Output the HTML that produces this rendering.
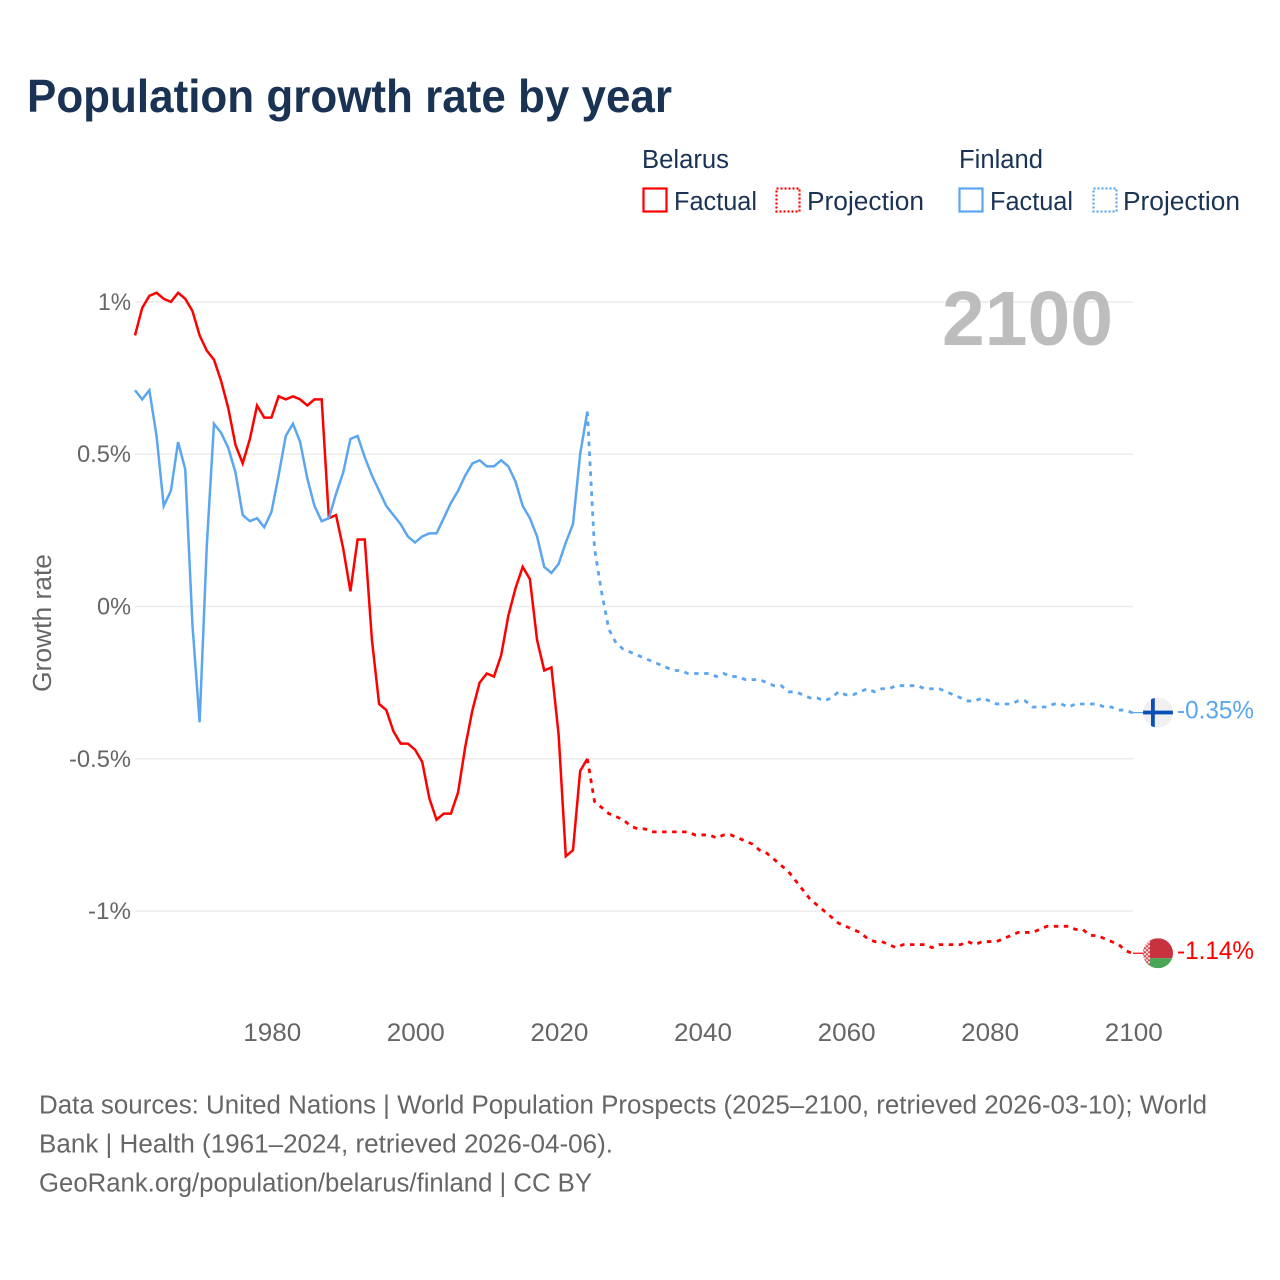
<!DOCTYPE html>
<html lang="en">
<head>
<meta charset="utf-8">
<title>Population growth rate by year</title>
<style>
html,body{margin:0;padding:0;background:#fff;}
svg{display:block;}
text{font-family:"Liberation Sans",sans-serif;}
</style>
</head>
<body>
<svg id="chart" xmlns="http://www.w3.org/2000/svg" width="1280" height="1280" viewBox="0 0 1280 1280">
  <defs>
    <clipPath id="fi-clip"><circle cx="0" cy="0" r="15"/></clipPath>
    <clipPath id="by-clip"><circle cx="0" cy="0" r="15"/></clipPath>
    <pattern id="by-ornament" width="4" height="4" patternUnits="userSpaceOnUse">
      <rect width="4" height="4" fill="#f3dcdc"/>
      <rect width="2" height="2" fill="#cf4a55"/>
      <rect x="2" y="2" width="2" height="2" fill="#cf4a55"/>
    </pattern>
  </defs>
  <rect width="1280" height="1280" fill="#fff"/>

  <text x="27" y="112" font-size="46" font-weight="700" fill="#1a3354" textLength="645" lengthAdjust="spacingAndGlyphs">Population growth rate by year</text>

  <g font-size="25.5" fill="#1a3354">
    <text x="642" y="168" textLength="87" lengthAdjust="spacingAndGlyphs">Belarus</text>
    <g>
      <rect x="643.5" y="188.5" width="23" height="23" fill="none" stroke="#ff0000" stroke-width="2.2"/>
      <text x="674" y="210" textLength="83" lengthAdjust="spacingAndGlyphs">Factual</text>
    </g>
    <g>
      <rect x="776.5" y="188.5" width="23" height="23" fill="none" stroke="#ff0000" stroke-width="2.2" stroke-dasharray="2 2"/>
      <text x="807" y="210" textLength="117" lengthAdjust="spacingAndGlyphs">Projection</text>
    </g>
    <text x="959" y="168" textLength="84" lengthAdjust="spacingAndGlyphs">Finland</text>
    <g>
      <rect x="959.5" y="188.5" width="23" height="23" fill="none" stroke="#5ba6ee" stroke-width="2.2"/>
      <text x="990" y="210" textLength="83" lengthAdjust="spacingAndGlyphs">Factual</text>
    </g>
    <g>
      <rect x="1093.5" y="188.5" width="23" height="23" fill="none" stroke="#5ba6ee" stroke-width="2.2" stroke-dasharray="2 2"/>
      <text x="1123" y="210" textLength="117" lengthAdjust="spacingAndGlyphs">Projection</text>
    </g>
  </g>

  <g id="grid"></g>
  <g id="yticks"></g>
  <g id="xticks"></g>

  <text x="0" y="0" transform="translate(51,623) rotate(-90)" text-anchor="middle" font-size="25.5" fill="#666" textLength="138" lengthAdjust="spacingAndGlyphs">Growth rate</text>

  <text x="1113" y="345" text-anchor="end" font-size="77" font-weight="700" fill="#bdbdbd" textLength="171" lengthAdjust="spacingAndGlyphs">2100</text>

  <g id="series"></g>
  <g id="ends"></g>

  <g font-size="25.5" fill="#666">
    <text x="39" y="1113.5" textLength="1168" lengthAdjust="spacingAndGlyphs">Data sources: United Nations | World Population Prospects (2025–2100, retrieved 2026-03-10); World</text>
    <text x="39" y="1152.5" textLength="574" lengthAdjust="spacingAndGlyphs">Bank | Health (1961–2024, retrieved 2026-04-06).</text>
    <text x="39" y="1191.5" textLength="553" lengthAdjust="spacingAndGlyphs">GeoRank.org/population/belarus/finland | CC BY</text>
  </g>
</svg>

<script>
const factualYears = [1961,1962,1963,1964,1965,1966,1967,1968,1969,1970,1971,1972,1973,1974,1975,1976,1977,1978,1979,1980,1981,1982,1983,1984,1985,1986,1987,1988,1989,1990,1991,1992,1993,1994,1995,1996,1997,1998,1999,2000,2001,2002,2003,2004,2005,2006,2007,2008,2009,2010,2011,2012,2013,2014,2015,2016,2017,2018,2019,2020,2021,2022,2023,2024];
const projectionYears = [2024,2025,2026,2027,2028,2029,2030,2031,2032,2033,2034,2035,2036,2037,2038,2039,2040,2041,2042,2043,2044,2045,2046,2047,2048,2049,2050,2051,2052,2053,2054,2055,2056,2057,2058,2059,2060,2061,2062,2063,2064,2065,2066,2067,2068,2069,2070,2071,2072,2073,2074,2075,2076,2077,2078,2079,2080,2081,2082,2083,2084,2085,2086,2087,2088,2089,2090,2091,2092,2093,2094,2095,2096,2097,2098,2099,2100];

const belarusFactual = [0.89,0.98,1.02,1.03,1.01,1.00,1.03,1.01,0.97,0.89,0.84,0.81,0.74,0.65,0.53,0.47,0.55,0.66,0.62,0.62,0.69,0.68,0.69,0.68,0.66,0.68,0.68,0.29,0.30,0.19,0.05,0.22,0.22,-0.11,-0.32,-0.34,-0.41,-0.45,-0.45,-0.47,-0.51,-0.63,-0.70,-0.68,-0.68,-0.61,-0.46,-0.34,-0.25,-0.22,-0.23,-0.16,-0.03,0.06,0.13,0.09,-0.11,-0.21,-0.20,-0.42,-0.82,-0.80,-0.54,-0.50];
const finlandFactual = [0.71,0.68,0.71,0.56,0.33,0.38,0.54,0.45,-0.06,-0.38,0.20,0.60,0.57,0.52,0.44,0.30,0.28,0.29,0.26,0.31,0.43,0.56,0.60,0.54,0.42,0.33,0.28,0.29,0.37,0.44,0.55,0.56,0.49,0.43,0.38,0.33,0.30,0.27,0.23,0.21,0.23,0.24,0.24,0.29,0.34,0.38,0.43,0.47,0.48,0.46,0.46,0.48,0.46,0.41,0.33,0.29,0.23,0.13,0.11,0.14,0.21,0.27,0.50,0.64];
const belarusProjection = [-0.50,-0.64,-0.66,-0.68,-0.69,-0.70,-0.72,-0.73,-0.73,-0.74,-0.74,-0.74,-0.74,-0.74,-0.74,-0.75,-0.75,-0.75,-0.76,-0.75,-0.75,-0.76,-0.77,-0.78,-0.80,-0.81,-0.83,-0.85,-0.87,-0.90,-0.93,-0.96,-0.98,-1.00,-1.02,-1.04,-1.05,-1.06,-1.07,-1.09,-1.10,-1.10,-1.11,-1.12,-1.11,-1.11,-1.11,-1.11,-1.12,-1.11,-1.11,-1.11,-1.11,-1.10,-1.11,-1.10,-1.10,-1.10,-1.09,-1.08,-1.07,-1.07,-1.07,-1.06,-1.05,-1.05,-1.05,-1.05,-1.06,-1.06,-1.08,-1.08,-1.09,-1.10,-1.11,-1.13,-1.14];
const finlandProjection = [0.64,0.19,0.045,-0.075,-0.12,-0.14,-0.15,-0.16,-0.17,-0.18,-0.19,-0.20,-0.21,-0.21,-0.22,-0.22,-0.22,-0.22,-0.23,-0.22,-0.23,-0.23,-0.24,-0.24,-0.24,-0.25,-0.26,-0.26,-0.28,-0.28,-0.29,-0.30,-0.30,-0.31,-0.30,-0.28,-0.29,-0.29,-0.28,-0.27,-0.28,-0.27,-0.27,-0.26,-0.26,-0.26,-0.26,-0.27,-0.27,-0.27,-0.28,-0.29,-0.30,-0.31,-0.31,-0.30,-0.31,-0.32,-0.32,-0.32,-0.31,-0.31,-0.33,-0.33,-0.33,-0.32,-0.32,-0.33,-0.32,-0.32,-0.32,-0.32,-0.33,-0.33,-0.34,-0.34,-0.35];

const yTickValues = [1,0.5,0,-0.5,-1];
const yTickLabels = ["1%","0.5%","0%","-0.5%","-1%"];
const yTickWidths = [33,54,34,62,43];
const xTickValues = [1980,2000,2020,2040,2060,2080,2100];
const xTickLabels = ["1980","2000","2020","2040","2060","2080","2100"];

const NS = "http://www.w3.org/2000/svg";
const plotLeft = 135, plotRight = 1133;
const yearMin = 1961, yearMax = 2100;
function xScale(year){ return plotLeft + (year - yearMin) * (plotRight - plotLeft) / (yearMax - yearMin); }
function yScale(value){ return 606.5 - value * 304.6; }
function node(tag, attrs, parent){
  const el = document.createElementNS(NS, tag);
  for (const k in attrs) el.setAttribute(k, attrs[k]);
  parent.appendChild(el);
  return el;
}

const grid = document.getElementById("grid");
const yticks = document.getElementById("yticks");
const xticks = document.getElementById("xticks");
const series = document.getElementById("series");
const ends = document.getElementById("ends");

yTickValues.forEach(function(v, i){
  const line = node("line", {x1: plotLeft, x2: plotRight, y1: yScale(v), y2: yScale(v), stroke: "#ececec", "stroke-width": 1.5}, grid);
  
  
  const label = node("text", {x: 131, y: yScale(v) + 8, "text-anchor": "end", "font-size": 24, fill: "#666", textLength: yTickWidths[i], lengthAdjust: "spacingAndGlyphs"}, yticks);
  label.textContent = yTickLabels[i];
  
  
});

xTickValues.forEach(function(v, i){
  const label = node("text", {x: xScale(v) + 0.8, y: 1041, "text-anchor": "middle", "font-size": 25, fill: "#666", textLength: 58, lengthAdjust: "spacingAndGlyphs"}, xticks);
  label.textContent = xTickLabels[i];
  
  
});

function linePath(years, values){
  return years.map(function(y, i){
    return (i ? "L" : "M") + xScale(y).toFixed(2) + " " + yScale(values[i]).toFixed(2);
  }).join(" ");
}

const redLine = "#ff0000", blueLine = "#5ba6ee";

const belarusFactualLine = node("path", {d: linePath(factualYears, belarusFactual), fill: "none", stroke: redLine, "stroke-width": 2.5, "stroke-linejoin": "miter"}, series);



const belarusProjectionLine = node("path", {d: linePath(projectionYears, belarusProjection), fill: "none", stroke: redLine, "stroke-width": 2.8, "stroke-dasharray": "4.5 5.5"}, series);



const finlandFactualLine = node("path", {d: linePath(factualYears, finlandFactual), fill: "none", stroke: blueLine, "stroke-width": 2.5, "stroke-linejoin": "miter"}, series);



const finlandProjectionLine = node("path", {d: linePath(projectionYears, finlandProjection), fill: "none", stroke: blueLine, "stroke-width": 2.8, "stroke-dasharray": "4.5 5.5"}, series);



function pct(v){ return v.toFixed(2) + "%"; }

/* Finland end marker */
const fiValue = finlandProjection[finlandProjection.length - 1];
const fiY = yScale(fiValue);
const fiLeader = node("line", {x1: 1133, x2: 1143, y1: fiY - 0.5, y2: fiY - 0.5, stroke: blueLine, "stroke-width": 1.2}, ends);


const fiFlag = node("g", {transform: "translate(1158," + (fiY - 0.5) + ")", "clip-path": "url(#fi-clip)"}, ends);


node("circle", {cx: 0, cy: 0, r: 15, fill: "#f0f0f0"}, fiFlag);
node("rect", {x: -7, y: -15, width: 3.8, height: 30, fill: "#0a4fb3"}, fiFlag);
node("rect", {x: -15, y: -2, width: 30, height: 3.8, fill: "#0a4fb3"}, fiFlag);
const fiLabel = node("text", {x: 1177, y: fiY + 5.5, "font-size": 25, fill: blueLine, textLength: 77, lengthAdjust: "spacingAndGlyphs"}, ends);
fiLabel.textContent = pct(fiValue);



/* Belarus end marker */
const byValue = belarusProjection[belarusProjection.length - 1];
const byY = yScale(byValue);
const byLeader = node("line", {x1: 1133, x2: 1143, y1: byY - 0.5, y2: byY - 0.5, stroke: redLine, "stroke-width": 1.2}, ends);


const byFlag = node("g", {transform: "translate(1158," + (byY - 0.5) + ")", "clip-path": "url(#by-clip)"}, ends);


node("rect", {x: -15, y: -15, width: 30, height: 20, fill: "#c8313e"}, byFlag);
node("rect", {x: -15, y: 5, width: 30, height: 10, fill: "#4aa657"}, byFlag);
node("rect", {x: -15, y: -15, width: 7, height: 30, fill: "url(#by-ornament)"}, byFlag);
const byLabel = node("text", {x: 1177, y: byY + 5.5, "font-size": 25, fill: redLine, textLength: 77, lengthAdjust: "spacingAndGlyphs"}, ends);
byLabel.textContent = pct(byValue);


</script>
</body>
</html>
